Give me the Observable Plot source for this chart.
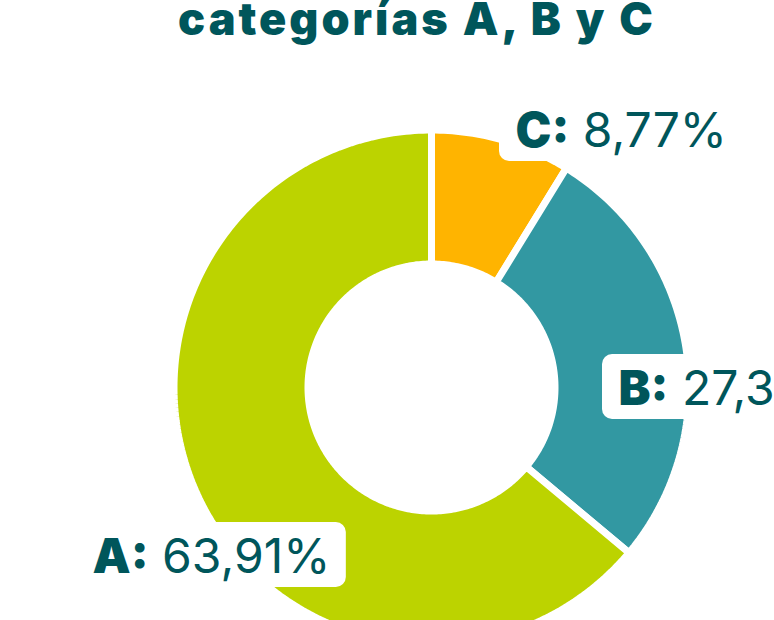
<!DOCTYPE html>
<html>
<head>
<meta charset="utf-8">
<script src="https://cdn.jsdelivr.net/npm/d3@7"></script>
<script src="https://cdn.jsdelivr.net/npm/@observablehq/plot@0.6"></script>
<style>
  html, body { margin: 0; padding: 0; background: #fff; overflow: hidden; width: 774px; height: 620px; }
  #title { position: absolute; left: 0; top: -4px; width: 834px; text-align: center;
           font-family: Inter, sans-serif; font-weight: 900; font-size: 45px; line-height: 45px;
           color: #00565b; letter-spacing: 3px; white-space: nowrap; }
  #chart { position: absolute; left: 0; top: 50px; }
</style>
</head>
<body>
<div id="title">categorías A, B y C</div>
<div id="chart"></div>
<script>
// ---- data ----
const categories = ["A", "B", "C"];
const shares = [63.91, 27.32, 8.77];
const colors = ["#bcd300", "#3298a2", "#ffb400"];
// slices drawn clockwise from 12 o'clock in this order
const sliceOrder = ["C", "B", "A"];

// ---- layout (pixels, donut centre at origin, y up) ----
const W = 774, H = 680;
const CX = 431, CY = 337;          // centre inside the svg
const R_OUT = 257.5, R_IN = 123.5; // polygon radii (stroke eats 3.5px each side)
const GAP = 7;
const labelPos = { // text start x, baseline y
  C: [84, 241],
  B: [187, -17],
  A: [-339, -185]
};
const FS = 48, PAD = 16, BOX_UP = 50, BOX_DOWN = 15;
const HEAD_WEIGHT = 900;
const textColor = "#00565b";

const pie = d3.pie().sort(null).value(d => d.share)
  .startAngle(0).endAngle(2 * Math.PI);
const sliceData = sliceOrder.map(c => ({cat: c, share: shares[categories.indexOf(c)]}));
const arcs = pie(sliceData);

const pts = [];
for (const a of arcs) {
  const n = Math.max(8, Math.ceil((a.endAngle - a.startAngle) * 60));
  for (let i = 0; i <= n; i++) {
    const t = a.startAngle + (a.endAngle - a.startAngle) * i / n;
    pts.push({cat: a.data.cat, x: R_OUT * Math.sin(t), y: R_OUT * Math.cos(t)});
  }
  for (let i = n; i >= 0; i--) {
    const t = a.startAngle + (a.endAngle - a.startAngle) * i / n;
    pts.push({cat: a.data.cat, x: R_IN * Math.sin(t), y: R_IN * Math.cos(t)});
  }
}

// text measurement
const ctx = document.createElement("canvas").getContext("2d");
function measure(txt, weight) {
  ctx.font = `${weight} ${FS}px Inter`;
  return ctx.measureText(txt).width;
}
const fmt = v => v.toFixed(2).replace(".", ",") + "%";

const labels = categories.map((c, i) => {
  const [x, y] = labelPos[c];
  const head = c + ":";
  const val = fmt(shares[i]);
  const wHead = measure(head, HEAD_WEIGHT);
  const wSpace = measure(" ", 400);
  const wVal = measure(val, 400);
  return {cat: c, head, val, x, y, xv: x + wHead + wSpace,
          x1: x - PAD, x2: x + wHead + wSpace + wVal + PAD,
          y1: y - BOX_DOWN, y2: y + BOX_UP};
});

const plot = Plot.plot({
  width: W, height: H,
  margin: 0,
  x: {domain: [-CX, W - CX], axis: null},
  y: {domain: [-(H - CY), CY], axis: null},
  color: {domain: categories, range: colors},
  style: {background: "white", overflow: "visible"},
  marks: [
    Plot.line(pts, {x: "x", y: "y", z: "cat", fill: "cat", stroke: "white",
      strokeWidth: GAP, curve: "linear-closed", strokeLinejoin: "miter"}),
    Plot.rect(labels, {x1: "x1", x2: "x2", y1: "y1", y2: "y2", fill: "white", rx: 10}),
    Plot.text(labels, {x: "x", y: "y", text: "head", textAnchor: "start", lineAnchor: "bottom",
      fontSize: FS, fontWeight: HEAD_WEIGHT, fontFamily: "Inter", fill: textColor}),
    Plot.text(labels, {x: "xv", y: "y", text: "val", textAnchor: "start", lineAnchor: "bottom",
      fontSize: FS, fontWeight: 400, fontFamily: "Inter", fill: textColor})
  ]
});
document.getElementById("chart").appendChild(plot);
</script>
</body>
</html>
